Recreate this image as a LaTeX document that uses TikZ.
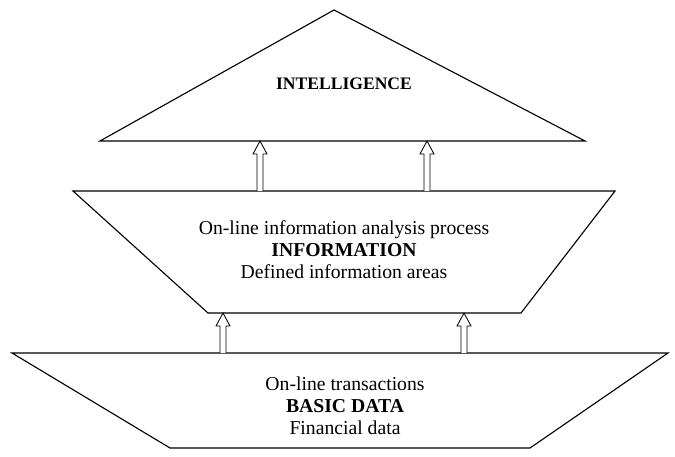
\documentclass[tikz,border=0pt]{standalone}
\usepackage{fontspec}
\setmainfont{Liberation Serif}
\usetikzlibrary{calc}

% hollow up-arrow between two named points (tail, tip)
\newcommand\hollowup[2]{%
  \draw[hollow] ($(#1)+(-3,0)$) -- ($(#2)+(-3,13)$) -- ($(#2)+(-7,13)$)
    -- (#2) -- ($(#2)+(7,13)$) -- ($(#2)+(3,13)$) -- ($(#1)+(3,0)$);}

\begin{document}
\begin{tikzpicture}[x=0.025cm, y=-0.025cm,
    level/.style={draw, line width=0.8pt, line join=miter},
    hollow/.style={draw, fill=white, line width=0.6pt},
    caption/.style={align=center, font=\fontsize{14}{15.6}\selectfont, inner sep=0pt}
  ]
  \useasboundingbox (0,0) rectangle (675,457);

  % --- three levels of the pyramid ---
  \draw[level] (100,141) coordinate (tl) -- (334,10) coordinate (apex) -- (585,141) coordinate (tr) -- cycle;
  \draw[level] (73,191) coordinate (ml) -- (615,191) coordinate (mr) -- (521,313) coordinate (mbr) -- (208,313) coordinate (mbl) -- cycle;
  \draw[level] (12,353) coordinate (bl) -- (668,353) coordinate (br) -- (530,448) coordinate (bbr) -- (170,448) coordinate (bbl) -- cycle;

  % --- labels ---
  \node[caption, font=\fontsize{12.5}{15}\selectfont\bfseries] (intel) at (344,84) {INTELLIGENCE};
  \node[caption] (info) at (344,250) {On-line information analysis process\\\textbf{INFORMATION}\\Defined information areas};
  \node[caption] (basic) at (345,406) {On-line transactions\\\textbf{BASIC DATA}\\Financial data};

  % --- arrow anchors ---
  \coordinate (a1) at (260,191);  \coordinate (a1t) at (260,141);
  \coordinate (a2) at (427,191);  \coordinate (a2t) at (427,141);
  \coordinate (b1) at (223,353);  \coordinate (b1t) at (223,313);
  \coordinate (b2) at (464,353);  \coordinate (b2t) at (464,313);

  % --- flow between levels ---
  \hollowup{a1}{a1t}
  \hollowup{a2}{a2t}
  \hollowup{b1}{b1t}
  \hollowup{b2}{b2t}
\end{tikzpicture}
\end{document}
